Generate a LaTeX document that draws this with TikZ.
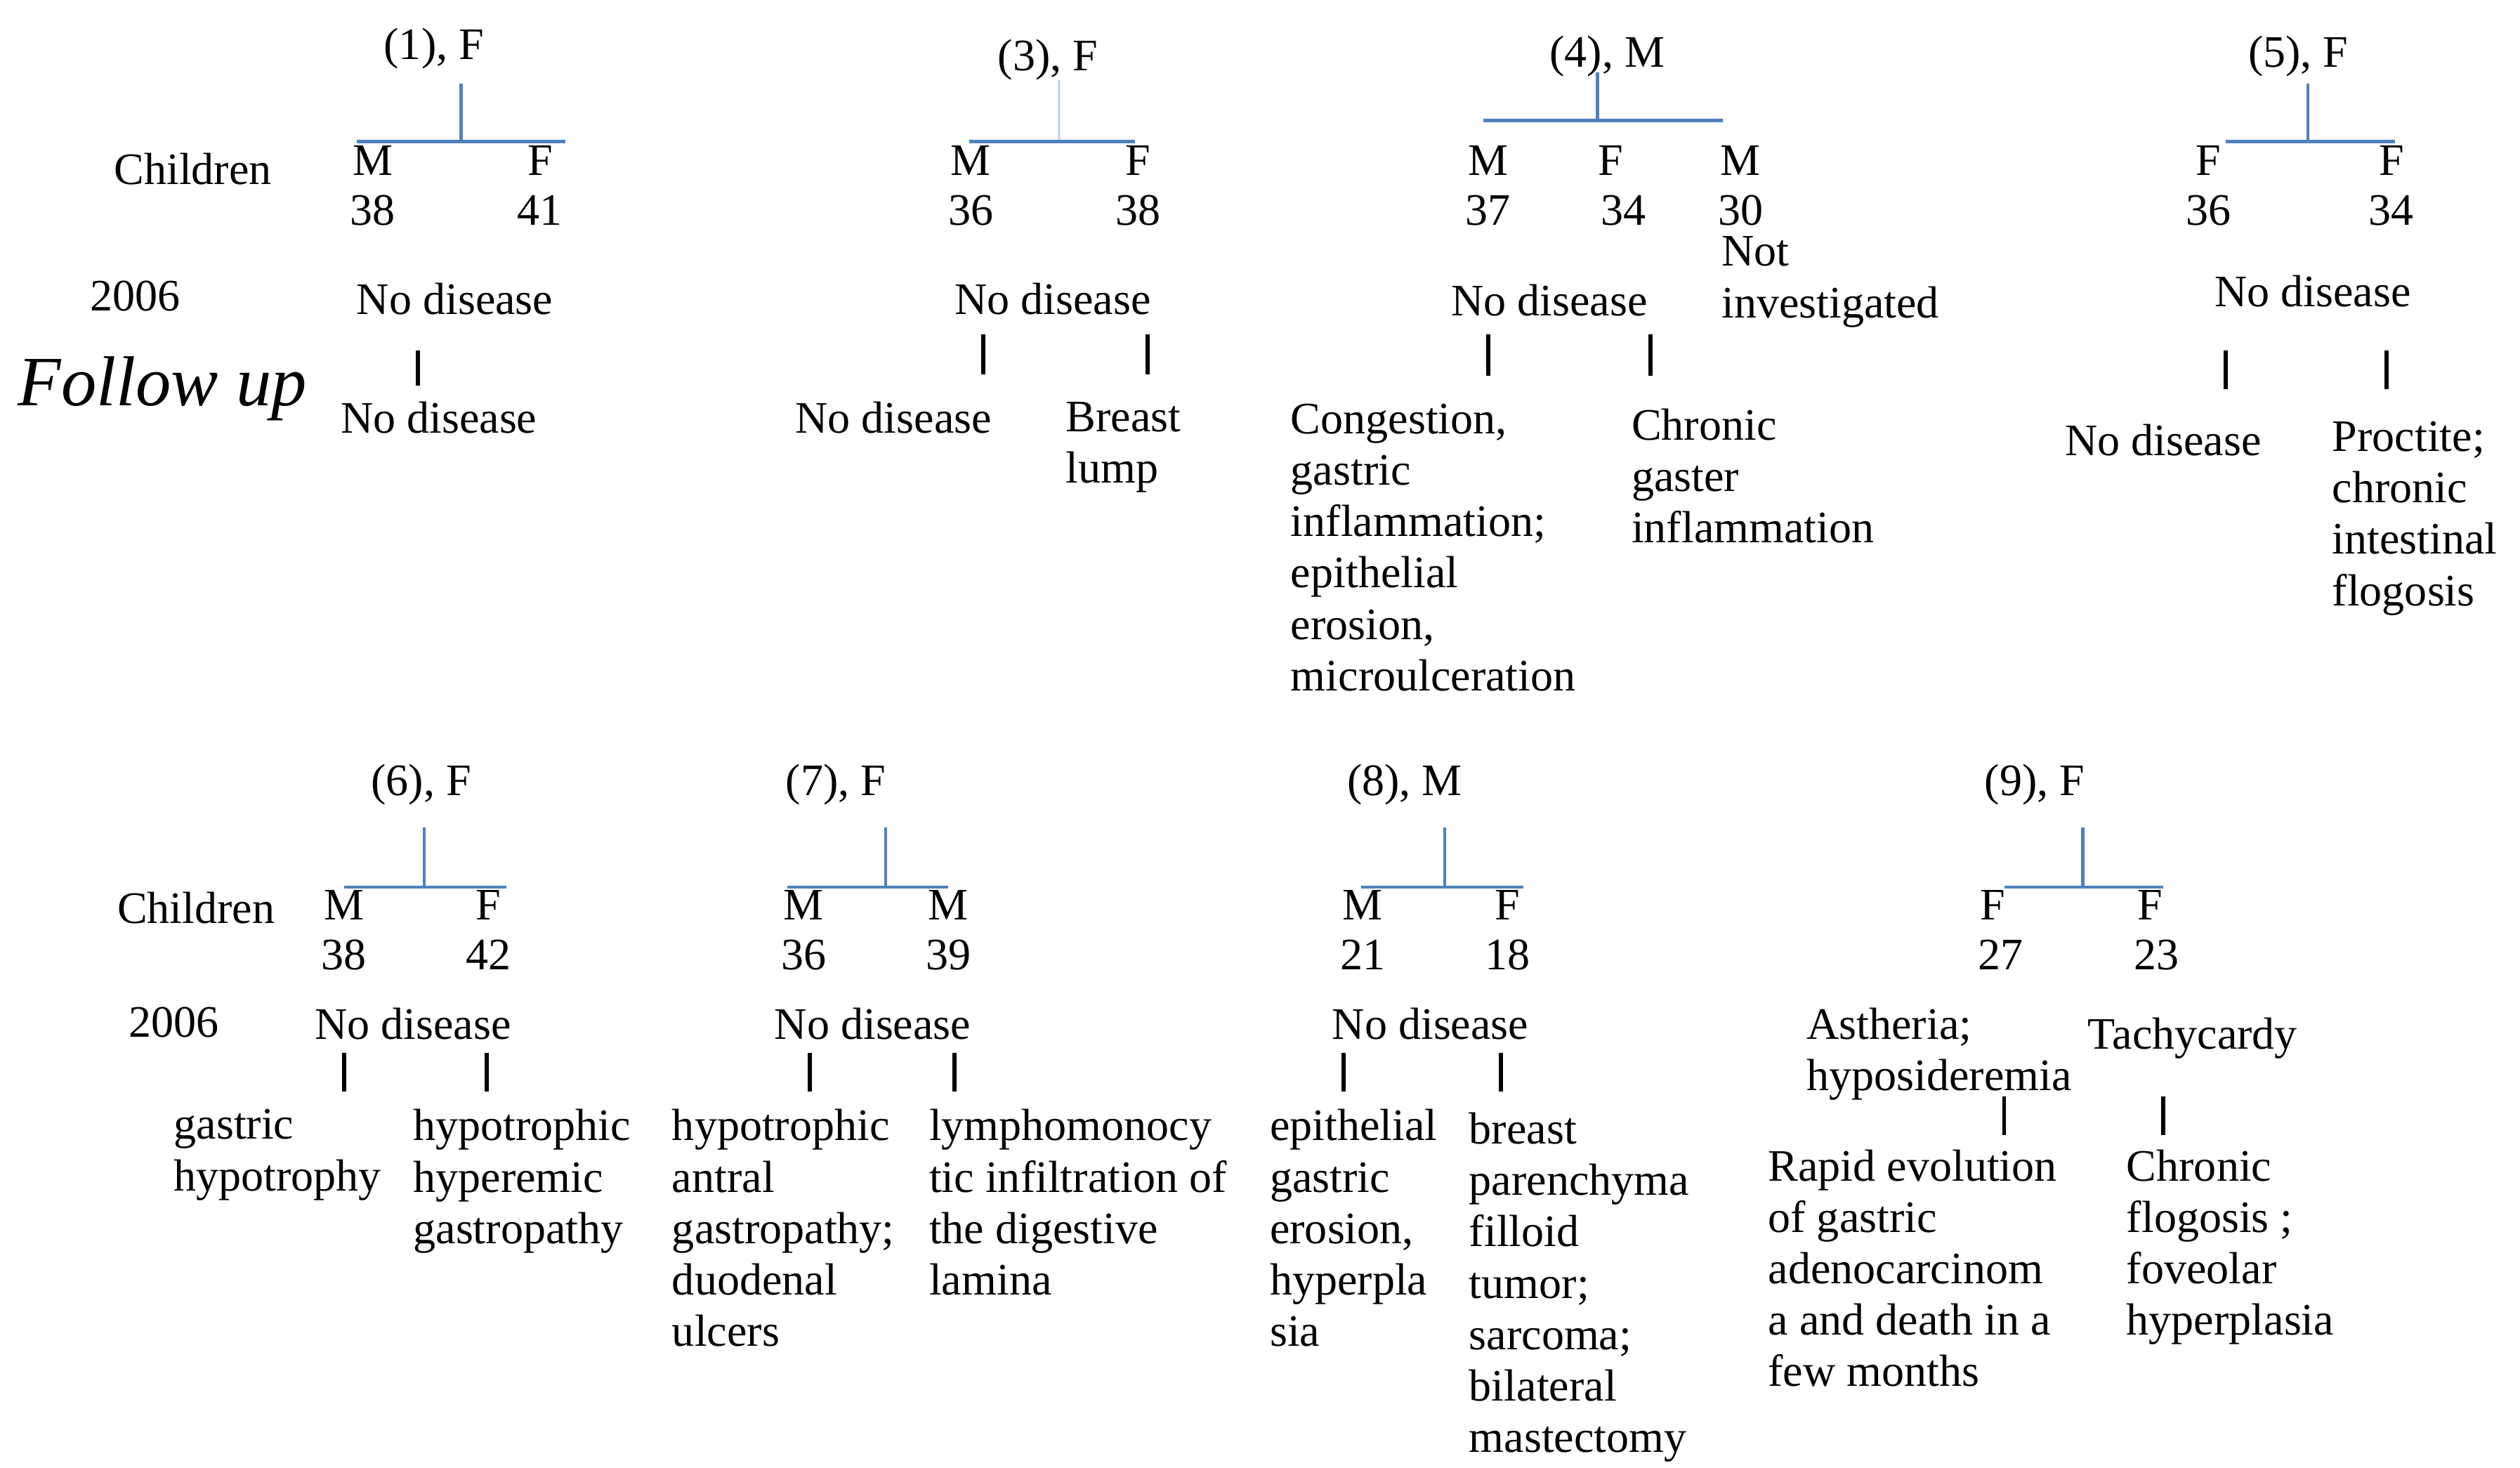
\documentclass[tikz,border=0pt]{standalone}
\usepackage{fontspec}
\setmainfont{Liberation Serif}
\usetikzlibrary{positioning}
\definecolor{barblue}{RGB}{79,129,189}

\begin{document}
\begin{tikzpicture}[
    x=1pt, y=-1pt,
    every node/.style={font=\fontsize{28}{32}\selectfont, inner sep=0pt},
    lbl/.style={anchor=center},
    txt/.style={align=left, anchor=north west},
    bar/.style={draw=barblue, line width=2pt},
    tick/.style={draw=black, line width=2.6pt},
]
\useasboundingbox (0,0) rectangle (1568,913);

% family (1)
\node[lbl] (p1) at (270,30) {(1), F};
\node[lbl] (ch1) at (120,105) {Children};
\node[lbl] (m1a) at (232,100) {M};
\node[lbl] (m1b) at (336,100) {F};
\node[below=12pt of m1a] (a1a) {38};
\node[below=12pt of m1b] (a1b) {41};
\node[lbl] (y1) at (84,184) {2006};
\node[lbl] (s1) at (283,186) {No disease};
\node[lbl, font=\fontsize{44}{50}\selectfont\itshape] (fu) at (101,242) {Follow up};
\node[lbl] (o1) at (273,260) {No disease};
\coordinate (t1) at (287,52);
\coordinate (j1) at (287,88);
\coordinate (l1) at (222,88);
\coordinate (r1) at (352,88);
\coordinate (k1) at (260,218);
\draw[bar] (t1) -- (j1);
\draw[bar] (l1) -- (r1);
\draw[tick] (k1) -- ++(0,22);

% family (3)
\node[lbl] (p3) at (652,37) {(3), F};
\node[lbl] (m3a) at (604,100) {M};
\node[lbl] (m3b) at (708,100) {F};
\node[below=12pt of m3a] (a3a) {36};
\node[below=12pt of m3b] (a3b) {38};
\node[lbl] (s3) at (655,186) {No disease};
\node[lbl] (o3a) at (556,260) {No disease};
\node[txt] (o3b) at (663,250) {Breast\\lump};
\coordinate (t3) at (659,50);
\coordinate (j3) at (659,88);
\coordinate (l3) at (603,88);
\coordinate (r3) at (706,88);
\coordinate (k3a) at (612,208);
\coordinate (k3b) at (714,208);
\draw[bar, draw=barblue!30] (t3) -- (j3);
\draw[bar] (l3) -- (r3);
\draw[tick] (k3a) -- ++(0,25);
\draw[tick] (k3b) -- ++(0,25);

% family (4)
\node[lbl] (p4) at (1000,35) {(4), M};
\node[lbl] (m4a) at (926,100) {M};
\node[lbl] (m4b) at (1002,100) {F};
\node[lbl] (m4c) at (1083,100) {M};
\node[below=12pt of m4a] (a4a) {37};
\node[below=12pt of m4b, xshift=8pt] (a4b) {34};
\node[below=12pt of m4c] (a4c) {30};
\node[txt] (n4) at (1071,147) {Not\\investigated};
\node[lbl] (s4) at (964,187) {No disease};
\node[txt] (o4a) at (803,251) {Congestion,\\gastric\\inflammation;\\epithelial\\erosion,\\microulceration};
\node[txt] (o4b) at (1015,254) {Chronic\\gaster\\inflammation};
\coordinate (t4) at (994,45);
\coordinate (j4) at (994,75);
\coordinate (l4) at (923,75);
\coordinate (r4) at (1072,75);
\coordinate (k4a) at (926,208);
\coordinate (k4b) at (1027,208);
\draw[bar] (t4) -- (j4);
\draw[bar] (l4) -- (r4);
\draw[tick] (k4a) -- ++(0,26);
\draw[tick] (k4b) -- ++(0,26);

% family (5)
\node[lbl] (p5) at (1430,35) {(5), F};
\node[lbl] (m5a) at (1374,100) {F};
\node[lbl] (m5b) at (1488,100) {F};
\node[below=12pt of m5a] (a5a) {36};
\node[below=12pt of m5b] (a5b) {34};
\node[lbl] (s5) at (1439,181) {No disease};
\node[lbl] (o5a) at (1346,274) {No disease};
\node[txt] (o5b) at (1451,262) {Proctite;\\chronic\\intestinal\\flogosis};
\coordinate (t5) at (1436,52);
\coordinate (j5) at (1436,88);
\coordinate (l5) at (1385,88);
\coordinate (r5) at (1490,88);
\coordinate (k5a) at (1385,218);
\coordinate (k5b) at (1485,218);
\draw[bar] (t5) -- (j5);
\draw[bar] (l5) -- (r5);
\draw[tick] (k5a) -- ++(0,24);
\draw[tick] (k5b) -- ++(0,24);

% family (6)
\node[lbl] (p6) at (262,488) {(6), F};
\node[lbl] (ch6) at (122,565) {Children};
\node[lbl] (m6a) at (214,563) {M};
\node[lbl] (m6b) at (304,563) {F};
\node[below=12pt of m6a] (a6a) {38};
\node[below=12pt of m6b] (a6b) {42};
\node[lbl] (y6) at (108,636) {2006};
\node[lbl] (s6) at (257,637) {No disease};
\node[txt] (o6a) at (108,690) {gastric\\hypotrophy};
\node[txt] (o6b) at (257,690) {hypotrophic\\hyperemic\\gastropathy};
\coordinate (t6) at (264,515);
\coordinate (j6) at (264,552);
\coordinate (l6) at (214,552);
\coordinate (r6) at (315,552);
\coordinate (k6a) at (214,655);
\coordinate (k6b) at (303,655);
\draw[bar] (t6) -- (j6);
\draw[bar] (l6) -- (r6);
\draw[tick] (k6a) -- ++(0,24);
\draw[tick] (k6b) -- ++(0,24);

% family (7)
\node[lbl] (p7) at (520,488) {(7), F};
\node[lbl] (m7a) at (500,563) {M};
\node[lbl] (m7b) at (590,563) {M};
\node[below=12pt of m7a] (a7a) {36};
\node[below=12pt of m7b] (a7b) {39};
\node[lbl] (s7) at (543,637) {No disease};
\node[txt] (o7a) at (418,690) {hypotrophic\\antral\\gastropathy;\\duodenal\\ulcers};
\node[txt] (o7b) at (578,690) {lymphomonocy\\tic infiltration of\\the digestive\\lamina};
\coordinate (t7) at (551,515);
\coordinate (j7) at (551,552);
\coordinate (l7) at (490,552);
\coordinate (r7) at (590,552);
\coordinate (k7a) at (504,655);
\coordinate (k7b) at (594,655);
\draw[bar] (t7) -- (j7);
\draw[bar] (l7) -- (r7);
\draw[tick] (k7a) -- ++(0,24);
\draw[tick] (k7b) -- ++(0,24);

% family (8)
\node[lbl] (p8) at (874,488) {(8), M};
\node[lbl] (m8a) at (848,563) {M};
\node[lbl] (m8b) at (938,563) {F};
\node[below=12pt of m8a] (a8a) {21};
\node[below=12pt of m8b] (a8b) {18};
\node[lbl] (s8) at (890,637) {No disease};
\node[txt] (o8a) at (790,690) {epithelial\\gastric\\erosion,\\hyperpla\\sia};
\node[txt] (o8b) at (914,692) {breast\\parenchyma\\filloid\\tumor;\\sarcoma;\\bilateral\\mastectomy};
\coordinate (t8) at (899,515);
\coordinate (j8) at (899,552);
\coordinate (l8) at (847,552);
\coordinate (r8) at (948,552);
\coordinate (k8a) at (836,655);
\coordinate (k8b) at (934,655);
\draw[bar] (t8) -- (j8);
\draw[bar] (l8) -- (r8);
\draw[tick] (k8a) -- ++(0,24);
\draw[tick] (k8b) -- ++(0,24);

% family (9)
\node[lbl] (p9) at (1266,488) {(9), F};
\node[lbl] (m9a) at (1240,563) {F};
\node[lbl] (m9b) at (1338,563) {F};
\node[below=12pt of m9a, xshift=5pt] (a9a) {27};
\node[below=12pt of m9b, xshift=4pt] (a9b) {23};
\node[txt] (s9a) at (1124,627) {Astheria;\\hyposideremia};
\node[lbl, anchor=west] (s9b) at (1299,646) {Tachycardy};
\node[txt] (o9a) at (1100,715) {Rapid evolution\\of gastric\\adenocarcinom\\a and death in a\\few months};
\node[txt] (o9b) at (1323,715) {Chronic\\flogosis ;\\foveolar\\hyperplasia};
\coordinate (t9) at (1296,515);
\coordinate (j9) at (1296,552);
\coordinate (l9) at (1247,552);
\coordinate (r9) at (1346,552);
\coordinate (k9a) at (1247,682);
\coordinate (k9b) at (1346,682);
\draw[bar] (t9) -- (j9);
\draw[bar] (l9) -- (r9);
\draw[tick] (k9a) -- ++(0,24);
\draw[tick] (k9b) -- ++(0,24);
\end{tikzpicture}
\end{document}
